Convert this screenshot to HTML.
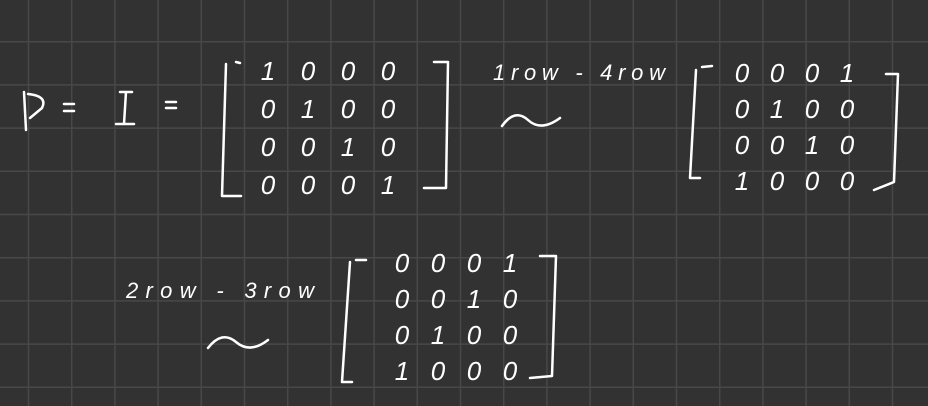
<!DOCTYPE html>
<html><head><meta charset="utf-8"><style>
html,body{margin:0;padding:0;background:#323232;}
svg{display:block}
text{fill:#fff;font-family:"Liberation Sans",sans-serif;font-style:italic;}
</style></head><body>
<svg width="928" height="406" viewBox="0 0 928 406">
<rect width="928" height="406" fill="#323232"/>
<g id="grid" stroke="#484848" stroke-width="1.5"></g>
<g id="ink"></g>
<g fill="none" stroke="#fff" stroke-width="2.5" stroke-linecap="round" stroke-linejoin="round">
<path d="M226 64 L222 196 L241 196 M236 62 L240 63"/>
<path d="M434 62 L448 62 L446 188 L424 188"/>
<path d="M696 70 L690 178 L700 178 M702 67 L712 66"/>
<path d="M886 74 L898 74 L894 182 L874 190"/>
<path d="M350 262 L342 382 L352 382 M356 260 L366 260"/>
<path d="M540 256 L556 256 L552 376 L530 378"/>
<path d="M502 126 Q515 108 528 120 T560 118"/>
<path d="M208 348 Q222 330 236 342 T268 340"/>
<path d="M24 92 L26 130 M28 94 Q48 96 42 108 L30 118"/>
<path d="M64 104 L74 104 M64 111 L74 111"/>
<path d="M120 92 L132 92 M126 92 L124 124 M116 124 L134 124"/>
<path d="M166 102 L176 102 M166 108 L176 108"/>
</g>
<text x="493" y="80" font-size="22" textLength="172" lengthAdjust="spacing">1row - 4row</text>
<text x="126" y="298" font-size="22" textLength="188" lengthAdjust="spacing">2row - 3row</text>
</svg>
<script>
const m1=[["1","0","0","0"],["0","1","0","0"],["0","0","1","0"],["0","0","0","1"]];
const m2=[["0","0","0","1"],["0","1","0","0"],["0","0","1","0"],["1","0","0","0"]];
const m3=[["0","0","0","1"],["0","0","1","0"],["0","1","0","0"],["1","0","0","0"]];
const NS="http://www.w3.org/2000/svg";
const grid=document.getElementById('grid');
for(let x=28.5;x<928;x+=43.2){const l=document.createElementNS(NS,'line');l.setAttribute('x1',x);l.setAttribute('x2',x);l.setAttribute('y1',0);l.setAttribute('y2',406);


grid.appendChild(l);}
for(let y=-1.5;y<406;y+=43.2){const l=document.createElementNS(NS,'line');l.setAttribute('y1',y);l.setAttribute('y2',y);l.setAttribute('x1',0);l.setAttribute('x2',928);


grid.appendChild(l);}
const ink=document.getElementById('ink');
function drawM(m,x0,y0,dx,dy,name){m.forEach((r,i)=>r.forEach((v,j)=>{const t=document.createElementNS(NS,'text');
t.setAttribute('x',x0+j*dx);t.setAttribute('y',y0+i*dy);t.setAttribute('font-size','26');t.setAttribute('text-anchor','middle');t.textContent=v;


ink.appendChild(t);}));}
drawM(m1,268,80,40,38,'matrix1');
drawM(m2,742,82,35,36,'matrix2');
drawM(m3,402,272,36,36,'matrix3');
</script>
</body></html>
